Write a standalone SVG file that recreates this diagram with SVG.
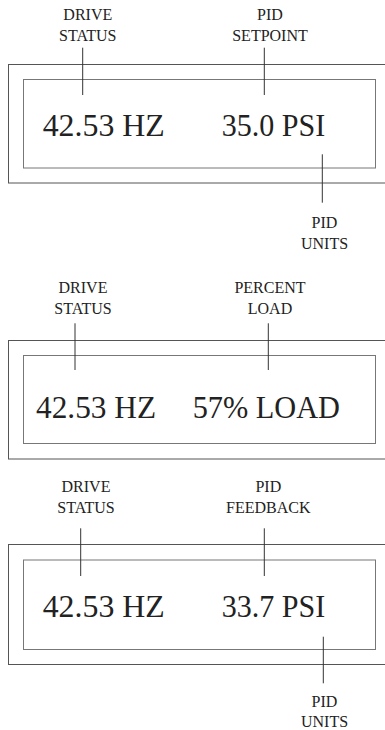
<svg xmlns="http://www.w3.org/2000/svg" width="385" height="730" viewBox="0 0 385 730">
<style>
.outer{fill:none;stroke:#555;stroke-width:1}
.inner{fill:none;stroke:#777;stroke-width:1}
.lead{stroke:#333;stroke-width:1;fill:none}
.lbl{font-size:16px;fill:#222;text-anchor:middle}
.big{font-size:32px;fill:#222}
</style>
<rect width="385" height="730" fill="#fff"/>
<g font-family="Liberation Serif, Tinos, Times New Roman, Noto Serif, DejaVu Serif, serif">
<g id="panel1">
<rect class="outer" x="8.5" y="64.5" width="380" height="118.5"/>
<rect class="inner" x="23.5" y="79.5" width="352" height="88.5"/>
<text class="big" x="42.7" y="136" textLength="122" lengthAdjust="spacingAndGlyphs">42.53 HZ</text>
<text class="big" x="221.7" y="136" textLength="103.5" lengthAdjust="spacingAndGlyphs">35.0 PSI</text>
</g>
<g id="label-drive-status-1"><text class="lbl" x="87.8" y="19.5">DRIVE</text><text class="lbl" x="87.8" y="41">STATUS</text></g>
<g id="label-pid-setpoint"><text class="lbl" x="270" y="19.5">PID</text><text class="lbl" x="270" y="41">SETPOINT</text></g>
<g id="label-pid-units-1"><text class="lbl" x="324.5" y="228">PID</text><text class="lbl" x="324.5" y="248.5">UNITS</text></g>
<g id="panel2">
<rect class="outer" x="8.5" y="340.5" width="380" height="118.5"/>
<rect class="inner" x="23.5" y="355.5" width="352" height="88"/>
<text class="big" x="36" y="418.3" textLength="120" lengthAdjust="spacingAndGlyphs">42.53 HZ</text>
<text class="big" x="192.7" y="418.3" textLength="147.3" lengthAdjust="spacingAndGlyphs">57% LOAD</text>
</g>
<g id="label-drive-status-2"><text class="lbl" x="83" y="293">DRIVE</text><text class="lbl" x="83" y="314">STATUS</text></g>
<g id="label-percent-load"><text class="lbl" x="270" y="293">PERCENT</text><text class="lbl" x="270" y="314">LOAD</text></g>
<g id="panel3">
<rect class="outer" x="8.5" y="544.5" width="380" height="120"/>
<rect class="inner" x="23.5" y="560" width="352" height="89.5"/>
<text class="big" x="42.7" y="616.7" textLength="122" lengthAdjust="spacingAndGlyphs">42.53 HZ</text>
<text class="big" x="221.7" y="616.7" textLength="103.5" lengthAdjust="spacingAndGlyphs">33.7 PSI</text>
</g>
<g id="label-drive-status-3"><text class="lbl" x="86" y="491.5">DRIVE</text><text class="lbl" x="86" y="513">STATUS</text></g>
<g id="label-pid-feedback"><text class="lbl" x="268.3" y="491.5">PID</text><text class="lbl" x="268.3" y="513">FEEDBACK</text></g>
<g id="label-pid-units-3"><text class="lbl" x="324.5" y="706.5">PID</text><text class="lbl" x="324.5" y="727">UNITS</text></g>
</g>
<g id="connectors">
<line class="lead" x1="82.7" y1="47.7" x2="82.7" y2="95"/>
<line class="lead" x1="264.3" y1="47.7" x2="264.3" y2="95"/>
<line class="lead" x1="322.3" y1="154.3" x2="322.3" y2="202.7"/>
<line class="lead" x1="75" y1="323.3" x2="75" y2="370"/>
<line class="lead" x1="268.3" y1="323.3" x2="268.3" y2="370"/>
<line class="lead" x1="80.7" y1="528.3" x2="80.7" y2="576"/>
<line class="lead" x1="264.3" y1="528.3" x2="264.3" y2="576"/>
<line class="lead" x1="323.3" y1="636.7" x2="323.3" y2="683.3"/>
</g>
</svg>
